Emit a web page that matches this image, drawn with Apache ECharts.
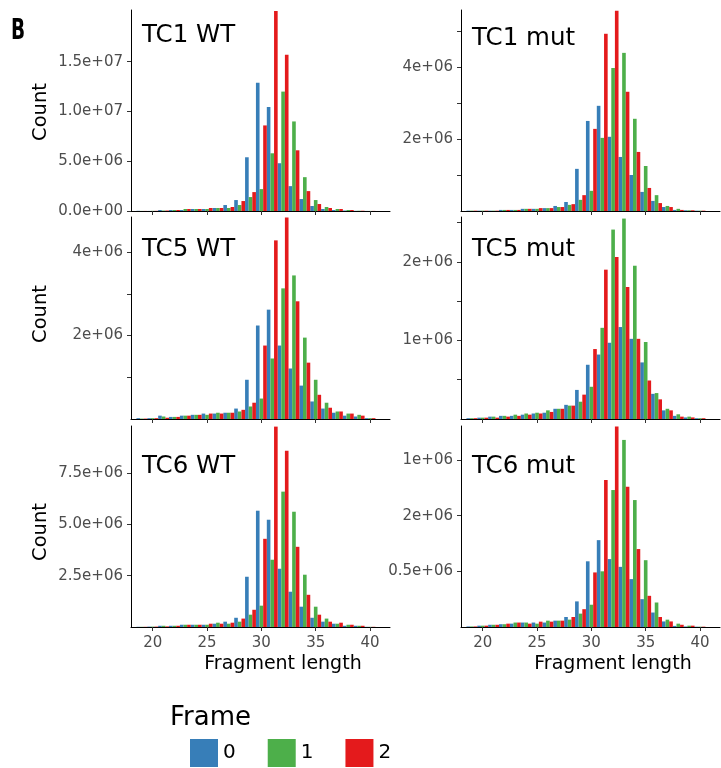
<!DOCTYPE html>
<html>
<head>
<meta charset="utf-8">
<script src="https://cdn.jsdelivr.net/npm/echarts@6/dist/echarts.min.js"></script>
<style>html,body{margin:0;padding:0;background:#fff}#c{width:721px;height:768px}</style>
</head>
<body>
<div id="c"></div>
<script>
// ---------------- data ----------------
const lengths = [19,20,21,22,23,24,25,26,27,28,29,30,31,32,33,34,35,36,37,38,39,40];
const frames = ['0','1','2'];
const frameColors = ['#377EB8','#4DAF4A','#E41A1C'];
const panelTitles = ['TC1 WT','TC1 mut','TC5 WT','TC5 mut','TC6 WT','TC6 mut'];

const tc1wt_f0 = [0.02e6,0.01e6,0.1e6,0.1e6,0.1e6,0.2e6,0.2e6,0.3e6,0.6e6,1.1e6,5.4e6,12.9e6,10.45e6,4.8e6,2.5e6,1.2e6,0.5e6,0.2e6,0.1e6,0.05e6,0.02e6,0.01e6];
const tc1wt_f1 = [0.01e6,0.02e6,0.05e6,0.1e6,0.2e6,0.2e6,0.2e6,0.3e6,0.3e6,0.6e6,1.4e6,2.2e6,5.8e6,12.0e6,9.0e6,3.4e6,1.1e6,0.4e6,0.2e6,0.1e6,0.03e6,0.01e6];
const tc1wt_f2 = [0.01e6,0.02e6,0.05e6,0.1e6,0.2e6,0.2e6,0.3e6,0.3e6,0.4e6,1.0e6,1.9e6,8.6e6,20.1e6,15.7e6,6.1e6,2.0e6,0.7e6,0.3e6,0.2e6,0.1e6,0.03e6,0.01e6];

const tc1mut_f0 = [0.01e6,0.01e6,0.01e6,0.03e6,0.03e6,0.06e6,0.06e6,0.08e6,0.14e6,0.25e6,1.17e6,2.5e6,2.92e6,2.06e6,1.5e6,1.0e6,0.53e6,0.28e6,0.11e6,0.03e6,0.02e6,0.01e6];
const tc1mut_f1 = [0.01e6,0.01e6,0.01e6,0.03e6,0.03e6,0.06e6,0.06e6,0.08e6,0.11e6,0.17e6,0.31e6,0.56e6,2.03e6,3.97e6,4.39e6,2.56e6,1.25e6,0.44e6,0.14e6,0.06e6,0.02e6,0.01e6];
const tc1mut_f2 = [0.01e6,0.01e6,0.01e6,0.03e6,0.03e6,0.06e6,0.08e6,0.08e6,0.11e6,0.19e6,0.44e6,2.28e6,4.92e6,5.56e6,3.31e6,1.64e6,0.64e6,0.22e6,0.11e6,0.03e6,0.02e6,0.01e6];

const tc5wt_f0 = [0.02e6,0.02e6,0.08e6,0.05e6,0.08e6,0.1e6,0.13e6,0.13e6,0.15e6,0.25e6,0.94e6,2.24e6,2.62e6,1.76e6,1.21e6,0.8e6,0.42e6,0.25e6,0.15e6,0.08e6,0.06e6,0.02e6];
const tc5wt_f1 = [0.01e6,0.02e6,0.06e6,0.05e6,0.08e6,0.1e6,0.1e6,0.15e6,0.15e6,0.18e6,0.3e6,0.49e6,1.45e6,3.13e6,3.44e6,1.95e6,0.94e6,0.39e6,0.18e6,0.13e6,0.1e6,0.02e6];
const tc5wt_f2 = [0.01e6,0.02e6,0.03e6,0.05e6,0.08e6,0.1e6,0.13e6,0.13e6,0.15e6,0.22e6,0.39e6,1.76e6,4.28e6,4.83e6,2.82e6,1.35e6,0.58e6,0.27e6,0.18e6,0.13e6,0.08e6,0.02e6];

const tc5mut_f0 = [0.01e6,0.017e6,0.03e6,0.04e6,0.04e6,0.055e6,0.07e6,0.08e6,0.13e6,0.18e6,0.37e6,0.69e6,0.82e6,0.97e6,1.17e6,1.02e6,0.72e6,0.32e6,0.11e6,0.04e6,0.02e6,0.01e6];
const tc5mut_f1 = [0.01e6,0.017e6,0.03e6,0.04e6,0.055e6,0.07e6,0.08e6,0.11e6,0.13e6,0.17e6,0.22e6,0.41e6,1.16e6,2.41e6,2.55e6,1.95e6,0.98e6,0.33e6,0.13e6,0.06e6,0.03e6,0.01e6];
const tc5mut_f2 = [0.01e6,0.017e6,0.017e6,0.03e6,0.04e6,0.055e6,0.07e6,0.09e6,0.13e6,0.17e6,0.31e6,0.89e6,1.9e6,2.06e6,1.68e6,1.02e6,0.49e6,0.25e6,0.11e6,0.03e6,0.02e6,0.01e6];

const tc6wt_f0 = [0.01e6,0.02e6,0.06e6,0.06e6,0.11e6,0.11e6,0.11e6,0.16e6,0.26e6,0.45e6,2.45e6,5.67e6,5.23e6,2.84e6,1.72e6,0.99e6,0.45e6,0.26e6,0.16e6,0.06e6,0.06e6,0.01e6];
const tc6wt_f1 = [0.01e6,0.02e6,0.06e6,0.06e6,0.11e6,0.11e6,0.11e6,0.21e6,0.16e6,0.26e6,0.6e6,1.04e6,3.28e6,6.6e6,5.62e6,2.55e6,0.99e6,0.41e6,0.16e6,0.11e6,0.06e6,0.01e6];
const tc6wt_f2 = [0.01e6,0.02e6,0.03e6,0.06e6,0.11e6,0.11e6,0.16e6,0.16e6,0.21e6,0.41e6,0.84e6,4.3e6,9.77e6,8.59e6,3.91e6,1.57e6,0.6e6,0.26e6,0.21e6,0.11e6,0.06e6,0.01e6];

const tc6mut_f0 = [0.005e6,0.012e6,0.02e6,0.025e6,0.03e6,0.04e6,0.04e6,0.04e6,0.057e6,0.09e6,0.23e6,0.59e6,0.78e6,0.61e6,0.54e6,0.43e6,0.25e6,0.13e6,0.05e6,0.01e6,0.005e6,0.003e6];
const tc6mut_f1 = [0.005e6,0.012e6,0.02e6,0.025e6,0.04e6,0.04e6,0.03e6,0.057e6,0.057e6,0.066e6,0.12e6,0.2e6,0.5e6,1.23e6,1.68e6,1.14e6,0.6e6,0.22e6,0.066e6,0.03e6,0.012e6,0.003e6];
const tc6mut_f2 = [0.005e6,0.012e6,0.02e6,0.03e6,0.04e6,0.03e6,0.048e6,0.048e6,0.057e6,0.09e6,0.16e6,0.49e6,1.32e6,1.8e6,1.26e6,0.7e6,0.28e6,0.09e6,0.05e6,0.02e6,0.012e6,0.003e6];

const panelValues = [
  [tc1wt_f0, tc1wt_f1, tc1wt_f2],
  [tc1mut_f0, tc1mut_f1, tc1mut_f2],
  [tc5wt_f0, tc5wt_f1, tc5wt_f2],
  [tc5mut_f0, tc5mut_f1, tc5mut_f2],
  [tc6wt_f0, tc6wt_f1, tc6wt_f2],
  [tc6mut_f0, tc6mut_f1, tc6mut_f2]
];

// axis ranges and ticks
const yMax = [20.2e6, 5.58e6, 4.84e6, 2.57e6, 9.8e6, 1.805e6];
const yTickValues = [
  [0, 5e6, 1e7, 1.5e7],
  [1e6, 2e6, 3e6, 4e6, 5e6],
  [1e6, 2e6, 3e6, 4e6],
  [0.5e6, 1e6, 1.5e6, 2e6, 2.5e6],
  [2.5e6, 5e6, 7.5e6],
  [0.5e6, 1e6, 1.5e6]
];
const yLabelValues = [
  [0, 5e6, 1e7, 1.5e7],
  [2e6, 4e6],
  [2e6, 4e6],
  [1e6, 2e6],
  [2.5e6, 5e6, 7.5e6],
  [0.5e6, 1e6, 1.5e6]
];
const yLabelTexts = [
  ['0.0e+00', '5.0e+06', '1.0e+07', '1.5e+07'],
  ['2e+06', '4e+06'],
  ['2e+06', '4e+06'],
  ['1e+06', '2e+06'],
  ['2.5e+06', '5.0e+06', '7.5e+06'],
  ['0.5e+06', '2e+06', '1e+06']
];
const xMin = 18, xMax = 41.84;
const xTicks = [20, 25, 30, 35, 40];

// ---------------- layout ----------------
const colLeft = [131, 461];
const panelWidth = 259;
const rowTop = [10, 217, 426];
const rowHeight = [201, 202, 201];
const titlePos = [[142, 36], [472, 38.5], [142, 249.5], [472, 250], [142, 467], [472, 467]];
const FONT = '"DejaVu Sans", "Liberation Sans", sans-serif';

const grids = [], xAxes = [], yAxes = [], series = [];
for (let p = 0; p < 6; p++) {
  const r = Math.floor(p / 2), c = p % 2;
  grids.push({left: colLeft[c], top: rowTop[r], width: panelWidth, height: rowHeight[r],
    containLabel: false, outerBoundsMode: 'none', show: false});
  xAxes.push({
    type: 'value', gridIndex: p, min: xMin, max: xMax,
    axisLine: {show: true, onZero: false, lineStyle: {color: '#000', width: 1}},
    axisTick: {show: true, length: 4, customValues: xTicks, lineStyle: {color: '#333', width: 1}},
    axisLabel: {show: r === 2, customValues: xTicks, margin: 9, fontSize: 15, fontFamily: FONT, color: '#4d4d4d'},
    splitLine: {show: false}
  });
  const lv = yLabelValues[p], lt = yLabelTexts[p];
  yAxes.push({
    type: 'value', gridIndex: p, min: 0, max: yMax[p],
    axisLine: {show: true, onZero: false, lineStyle: {color: '#000', width: 1}},
    axisTick: {show: true, length: 4, customValues: yTickValues[p], lineStyle: {color: '#333', width: 1}},
    axisLabel: {show: true, customValues: lv, margin: 8, fontSize: 15, fontFamily: FONT, color: '#4d4d4d',
      formatter: function (v) {
        const i = lv.findIndex(x => Math.abs(x - v) < 1);
        return i >= 0 ? lt[i] : '';
      }},
    splitLine: {show: false}
  });
  for (let f = 0; f < 3; f++) {
    series.push({
      type: 'bar', name: frames[f], xAxisIndex: p, yAxisIndex: p,
      data: lengths.map((l, i) => [l, panelValues[p][f][i]]),
      itemStyle: {color: frameColors[f], borderWidth: 0},
      barGap: '0%', barCategoryGap: '0%',
      emphasis: {disabled: true}
    });
  }
}

const graphics = [];
// panel letter
graphics.push({type: 'text', x: 11, y: 32, scaleX: 0.66,
  style: {text: 'B', fill: '#000', font: 'bold 28px ' + FONT, align: 'left', verticalAlign: 'middle', textAlign: 'left', textVerticalAlign: 'middle'}});
// panel titles
for (let p = 0; p < 6; p++) {
  graphics.push({type: 'text', x: titlePos[p][0], y: titlePos[p][1],
    style: {text: panelTitles[p], fill: '#000', font: '24.5px ' + FONT, align: 'left', verticalAlign: 'middle', textAlign: 'left', textVerticalAlign: 'middle'}});
}
// y axis titles
[112, 314, 532].forEach(y => {
  graphics.push({type: 'text', x: 40.5, y: y, rotation: Math.PI / 2,
    style: {text: 'Count', fill: '#000', font: '19.5px ' + FONT, align: 'center', verticalAlign: 'middle', textAlign: 'center', textVerticalAlign: 'middle'}});
});
// x axis titles
[283, 613].forEach(x => {
  graphics.push({type: 'text', x: x, y: 664,
    style: {text: 'Fragment length', fill: '#000', font: '19px ' + FONT, align: 'center', verticalAlign: 'middle', textAlign: 'center', textVerticalAlign: 'middle'}});
});
// legend title
graphics.push({type: 'text', x: 170, y: 718,
  style: {text: 'Frame', fill: '#000', font: '26px ' + FONT, align: 'left', verticalAlign: 'middle', textAlign: 'left', textVerticalAlign: 'middle'}});

const chart = echarts.init(document.getElementById('c'), null, {renderer: 'canvas', width: 721, height: 768});
chart.setOption({
  animation: false,
  backgroundColor: '#fff',
  grid: grids,
  xAxis: xAxes,
  yAxis: yAxes,
  series: series,
  legend: {
    show: true, data: frames, left: 190, top: 739, orient: 'horizontal', padding: 0,
    icon: 'rect', itemWidth: 28, itemHeight: 28, itemGap: 32,
    itemStyle: {borderWidth: 0},
    textStyle: {fontSize: 20, fontFamily: FONT, color: '#000'},
    selectedMode: false
  },
  graphic: graphics
});
</script>
</body>
</html>
